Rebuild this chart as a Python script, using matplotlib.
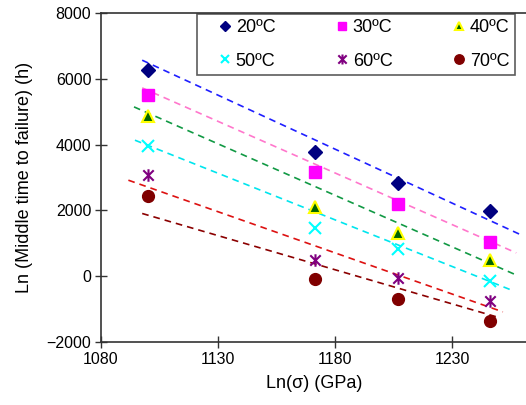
import numpy as np
import matplotlib
matplotlib.use("Agg")
import matplotlib.pyplot as plt
from matplotlib.path import Path

plt.rcParams["font.family"] = ["Liberation Sans", "DejaVu Sans"]

# Ln(sigma) values (GPa)
ln_sigma = [1100, 1171.5, 1207, 1246]

# Ln(middle time to failure) per temperature
labels = ["20ºC", "30ºC", "40ºC", "50ºC", "60ºC", "70ºC"]
y20 = [6260, 3760, 2835, 1975]
y30 = [5520, 3170, 2180, 1045]
y40 = [4860, 2105, 1300, 485]
y50 = [3960, 1470, 840, -145]
y60 = [3070, 505, -50, -760]
y70 = [2430, -70, -680, -1370]

# trend lines (start / end)
line_x0 = [1097.6, 1097.6, 1094.1, 1094.5, 1091.7, 1097.6]
line_x1 = [1258.8, 1257.4, 1257.6, 1256.2, 1251.7, 1250.5]
line_y0 = [6565, 5723, 5146, 4134, 2918, 1906]
line_y1 = [1277, 709, 30, -446, -1085, -1267]

line_colors = ["#1f1fff", "#ff77cc", "#119944", "#00e5ee", "#dd1111", "#8b0000"]

# x with a vertical bar
star_marker = Path([(-1, -1), (1, 1), (-1, 1), (1, -1), (0, -1.2), (0, 1.2)],
                   [Path.MOVETO, Path.LINETO, Path.MOVETO, Path.LINETO,
                    Path.MOVETO, Path.LINETO])

fig = plt.figure(figsize=(5.26, 4.05), dpi=100)
ax = fig.add_axes([101 / 526, 63 / 405, 426 / 526, 329 / 405])

for i in range(6):
    ax.plot([line_x0[i], line_x1[i]], [line_y0[i], line_y1[i]],
            linestyle=(0, (4, 3)), color=line_colors[i], linewidth=1.2, zorder=2)

h20, = ax.plot(ln_sigma, y20, linestyle="none", marker="D", markersize=7,
               color="#000080", label=labels[0], zorder=3)
h30, = ax.plot(ln_sigma, y30, linestyle="none", marker="s", markersize=8,
               color="#ff00ff", label=labels[1], zorder=3)
h40, = ax.plot(ln_sigma, y40, linestyle="none", marker="^", markersize=8,
               color="#006400", markeredgecolor="#ffff00", markeredgewidth=1.5,
               label=labels[2], zorder=3)
h50, = ax.plot(ln_sigma, y50, linestyle="none", marker="x", markersize=8,
               color="#00ffff", markeredgewidth=1.5, label=labels[3], zorder=3)
h60, = ax.plot(ln_sigma, y60, linestyle="none", marker=star_marker, markersize=9,
               color="#800080", markeredgewidth=1.5, label=labels[4], zorder=3)
h70, = ax.plot(ln_sigma, y70, linestyle="none", marker="o", markersize=8.5,
               color="#800000", label=labels[5], zorder=3)

ax.set_xlim(1080, 1262)
ax.set_ylim(-2000, 8000)
ax.set_xticks([1080, 1130, 1180, 1230])
ax.set_yticks([-2000, 0, 2000, 4000, 6000, 8000])
ax.set_yticklabels(["\u22122000", "0", "2000", "4000", "6000", "8000"])
ax.tick_params(direction="inout", length=8, width=1, labelsize=11.5,
               color="#333333", pad=3)

for s in ["left", "bottom", "top"]:
    ax.spines[s].set_color("#333333")
    ax.spines[s].set_linewidth(1.2)
ax.spines["right"].set_visible(False)

ax.set_xlabel("Ln(σ) (GPa)", fontsize=13, labelpad=6)
ax.set_ylabel("Ln (Middle time to failure) (h)", fontsize=13, labelpad=10)

# row-wise order in the legend
handles = [h20, h50, h30, h60, h40, h70]
leg = ax.legend(handles, [h.get_label() for h in handles], ncol=3,
                loc="upper left", bbox_to_anchor=(0.225, 0.818, 0.747, 0.179),
                mode="expand", borderaxespad=0, fontsize=13, frameon=True,
                fancybox=False, handletextpad=-0.65, handlelength=2.5,
                labelspacing=0.9, borderpad=0.3, columnspacing=1.0,
                markerscale=0.8)
leg.get_frame().set_edgecolor("#333333")
leg.get_frame().set_linewidth(1.2)

fig.savefig("out.png", dpi=100)
